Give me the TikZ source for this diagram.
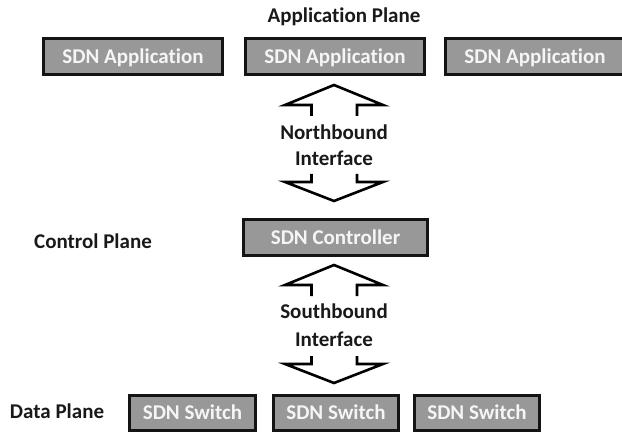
\documentclass[tikz,border=0pt]{standalone}
\usepackage{fontspec}
\setmainfont[Ligatures=NoCommon]{Carlito}
\definecolor{boxgray}{RGB}{152,152,152}
\definecolor{boxtext}{RGB}{245,245,245}
\begin{document}
\begin{tikzpicture}[x=1pt,y=-1pt,
  box/.style={draw=black!92, line width=3pt, fill=boxgray, text=boxtext,
    font=\fontsize{21}{25}\selectfont\bfseries, inner sep=0pt,
    text height=13.5pt, text depth=0pt, minimum height=36pt},
  lbl/.style={font=\fontsize{21}{25}\selectfont\bfseries, text=black!90,
    inner sep=0pt, anchor=base},
  hd/.style={line width=2.6pt, line join=miter, draw=black},
  uphead/.pic={\draw[hd] (-22.5,31) -- (-22.5,20) -- (-49,20) -- (0,0)
      -- (49,20) -- (23,20) -- (23,31);},
  downhead/.pic={\draw[hd] (-22.5,-27) -- (-22.5,-19) -- (-49,-19) -- (0,0)
      -- (49,-19) -- (23,-19) -- (23,-27);}]
\useasboundingbox (0,0) rectangle (622,433);

% application plane
\node[lbl] (ap) at (344,22.5) {Application Plane};
\node[box, minimum width=179pt] (app1) at (133,56.5) {SDN Application};
\node[box, minimum width=179pt] (app2) at (335,56.5) {SDN Application};
\node[box, minimum width=179pt] (app3) at (535,56.5) {SDN Application};

% northbound interface
\node[lbl] (nb1) at (334,140) {Northbound};
\node[lbl] (nb2) at (334,166) {Interface};
\coordinate (nbtop) at (334,85);
\coordinate (nbbot) at (334,201);
\pic at (nbtop) {uphead};
\pic at (nbbot) {downhead};

% control plane
\node[lbl] (cp) at (93,248.5) {Control Plane};
\node[box, minimum width=184pt] (ctl) at (335.5,237.5) {SDN Controller};

% southbound interface
\node[lbl] (sb1) at (334,318.5) {Southbound};
\node[lbl] (sb2) at (334,346) {Interface};
\coordinate (sbtop) at (334,265);
\coordinate (sbbot) at (334,383);
\pic at (sbtop) {uphead};
\pic at (sbbot) {downhead};

% data plane
\node[lbl] (dp) at (57,418) {Data Plane};
\node[box, minimum width=126pt, minimum height=35pt] (sw1) at (192.5,413) {SDN Switch};
\node[box, minimum width=125pt, minimum height=35pt] (sw2) at (336,413) {SDN Switch};
\node[box, minimum width=125pt, minimum height=35pt] (sw3) at (477,413) {SDN Switch};
\end{tikzpicture}
\end{document}
